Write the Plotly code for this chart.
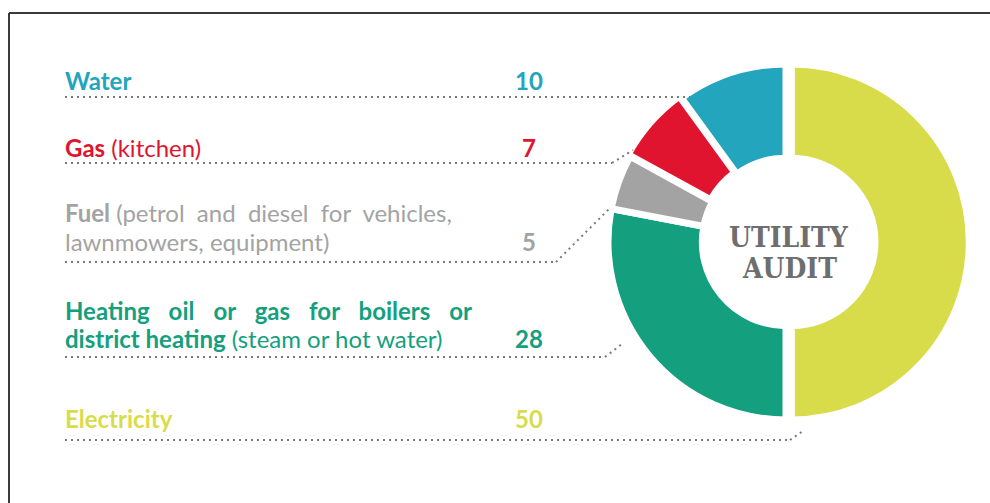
import plotly.graph_objects as go

# Utility audit breakdown (share of total, %)
categories = ["Electricity", "Heating oil or gas", "Fuel", "Gas (kitchen)", "Water"]
values = [50, 28, 5, 7, 10]
colors = ["#d9dc4a", "#14a07e", "#a3a3a3", "#e0142e", "#22a5bd"]
pulls = [0.03, 0.0, 0.0, 0.015, 0.0]

W, H = 990, 503


def px(x):
    return x / W


def py(y):
    return 1 - y / H


fig = go.Figure()

R = 178 * (1 + max(pulls))
fig.add_trace(go.Pie(
    labels=categories,
    values=values,
    marker=dict(colors=colors, line=dict(color="white", width=7)),
    hole=0.47,
    pull=pulls,
    sort=False,
    direction="clockwise",
    rotation=0,
    textinfo="none",
    hoverinfo="label+value",
    showlegend=False,
    domain=dict(x=[px(786 - R), px(786 + R)], y=[py(242 + R), py(242 - R)]),
))

LABEL_FONT = "Lato"
FS = 24
NB = "\u00a0"
WIDE = NB * 3 + "\u200a"
label_rows = [
    # (label html, value index, y centre, show value)
    ("<b>Water</b>", 4, 80, True),
    ("<b>Gas</b> (kitchen)", 3, 147, True),
    (f"<b>Fuel</b>{NB}(petrol{NB*2}and{NB*2}diesel{NB*2}for{NB*2}vehicles,", 2, 213, False),
    ("lawnmowers, equipment)", 2, 241, True),
    ("<b>" + WIDE.join("Heating oil or gas for boilers or".split()) + "</b>", 1, 310, False),
    ("<b>district heating</b> (steam or hot water)", 1, 338, True),
    ("<b>Electricity</b>", 0, 418, True),
]

annotations = []
for text, idx, yc, show_val in label_rows:
    annotations.append(dict(
        x=px(63), y=py(yc), xref="paper", yref="paper",
        xanchor="left", yanchor="middle", showarrow=False,
        text=text, font=dict(family=LABEL_FONT, size=FS, color=colors[idx]),
    ))
    if show_val:
        annotations.append(dict(
            x=px(529), y=py(yc), xref="paper", yref="paper",
            xanchor="center", yanchor="middle", showarrow=False,
            text=f"<b>{values[idx]}</b>",
            font=dict(family=LABEL_FONT, size=FS, color=colors[idx]),
        ))

# centre title
for word, yc in (("UTILITY", 237), ("AUDIT", 268)):
    annotations.append(dict(
        x=px(789), y=py(yc), xref="paper", yref="paper",
        xanchor="center", yanchor="middle", showarrow=False,
        text=f"<b>{word}</b>",
        font=dict(family="DejaVu Serif Condensed, DejaVu Serif", size=28, color="#6e6e6e"),
    ))

# dotted leader lines: horizontal rule under each label, then a short run to the slice
leaders = [
    [(65, 97), (690, 97)],
    [(65, 163), (612, 163), (633, 150)],
    [(65, 262), (556, 262), (610, 208)],
    [(65, 357), (605, 357), (622, 344)],
    [(65, 440), (790, 440), (803, 431)],
]
shapes = []
for pts in leaders:
    for (x0, y0), (x1, y1) in zip(pts[:-1], pts[1:]):
        shapes.append(dict(
            type="line", xref="paper", yref="paper",
            x0=px(x0), y0=py(y0), x1=px(x1), y1=py(y1),
            line=dict(color="#7a7a7a", width=2, dash="2px,4px"),
        ))

# outer frame
shapes.append(dict(type="line", xref="paper", yref="paper",
                   x0=px(9), y0=py(13), x1=px(1000), y1=py(13),
                   line=dict(color="#3a3a3a", width=2)))
shapes.append(dict(type="line", xref="paper", yref="paper",
                   x0=px(9), y0=py(13), x1=px(9), y1=py(520),
                   line=dict(color="#3a3a3a", width=2)))

fig.update_layout(
    width=W, height=H,
    margin=dict(l=0, r=0, t=0, b=0),
    paper_bgcolor="white", plot_bgcolor="white",
    annotations=annotations, shapes=shapes,
)

fig.write_html("out.html")
